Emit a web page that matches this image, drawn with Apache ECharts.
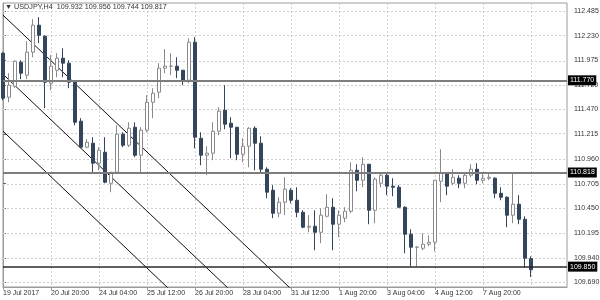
<!DOCTYPE html>
<html><head><meta charset="utf-8">
<script src="https://cdn.jsdelivr.net/npm/echarts@6/dist/echarts.min.js"></script>
<style>html,body{margin:0;padding:0;background:#fff}#c{width:600px;height:300px}</style>
</head><body><div id="c"></div>
<script>
const symbolName = 'USDJPY,H4';
const xTickLabels = ['19 Jul 2017','20 Jul 20:00','24 Jul 04:00','25 Jul 12:00','26 Jul 20:00','28 Jul 04:00','31 Jul 12:00','1 Aug 20:00','3 Aug 04:00','4 Aug 12:00','7 Aug 20:00','9 Aug 04:00'];
const yTicks = [109.690,109.940,110.195,110.450,110.705,110.960,111.215,111.470,111.720,111.975,112.230,112.485];
const slotCount = 95;

const opens = [112.050,111.596,111.709,111.957,111.823,112.060,112.338,112.225,111.740,111.874,111.998,111.947,111.761,111.349,111.081,111.122,110.916,111.029,110.709,110.823,111.215,111.101,111.287,110.998,111.256,111.544,111.648,111.895,111.916,111.916,111.874,111.771,112.163,111.173,110.998,111.019,111.246,111.462,111.328,111.287,111.008,111.091,111.276,111.122,110.854,110.637,110.400,110.514,110.637,110.534,110.410,110.256,110.266,110.204,110.369,110.462,110.287,110.349,110.421,110.843,110.740,110.905,110.431,110.709,110.792,110.679,110.668,110.462,110.184,110.050,110.039,110.081,110.101,110.730,110.813,110.709,110.761,110.709,110.792,110.854,110.740,110.761,110.761,110.606,110.565,110.380,110.493,110.338,109.932];
const highs = [112.060,111.843,111.977,111.977,112.173,112.400,112.421,112.235,112.029,112.050,112.101,111.977,111.771,111.380,111.163,111.184,111.081,111.184,110.823,111.307,111.235,111.338,111.338,111.287,111.617,111.689,111.947,112.091,112.050,112.008,111.874,112.204,112.215,111.235,111.091,111.338,111.493,111.720,111.390,111.287,111.173,111.287,111.297,111.194,110.874,110.689,110.565,110.771,110.658,110.668,110.431,110.380,110.431,110.452,110.596,110.555,110.431,110.462,110.926,110.905,110.977,110.905,110.771,110.823,110.823,110.761,110.690,110.472,110.235,110.060,110.194,110.173,110.740,111.060,110.823,110.854,110.792,110.813,110.905,110.916,110.813,110.813,110.771,110.668,110.575,110.823,110.586,110.369,109.956];
const lows = [111.565,111.544,111.689,111.782,111.782,112.008,112.153,111.483,111.668,111.802,111.802,111.689,111.307,111.070,111.070,110.813,110.843,110.709,110.617,110.813,111.081,111.081,110.977,110.823,111.235,111.380,111.586,111.843,111.823,111.792,111.720,111.740,111.070,110.895,110.792,110.947,111.204,111.266,110.967,110.947,110.926,110.874,110.843,110.823,110.555,110.349,110.359,110.380,110.503,110.359,110.246,110.204,110.019,110.091,110.359,110.019,110.153,110.307,110.400,110.627,110.668,110.287,110.297,110.668,110.586,110.575,110.452,109.988,109.854,109.854,110.019,110.060,110.008,110.514,110.586,110.689,110.658,110.658,110.771,110.699,110.709,110.740,110.555,110.534,110.256,110.297,110.287,109.843,109.744];
const closes = [111.586,111.720,111.967,111.843,112.060,112.338,112.235,111.751,111.916,111.998,111.947,111.751,111.338,111.081,111.132,110.916,111.050,110.720,110.823,111.215,111.101,111.276,110.998,111.256,111.544,111.637,111.895,111.916,111.916,111.874,111.761,112.163,111.184,110.998,111.019,111.246,111.452,111.318,111.287,111.008,111.091,111.276,111.122,110.854,110.617,110.400,110.514,110.648,110.534,110.410,110.256,110.266,110.204,110.380,110.462,110.287,110.380,110.421,110.843,110.740,110.905,110.431,110.751,110.792,110.679,110.668,110.462,110.184,110.050,110.050,110.081,110.101,110.740,110.813,110.679,110.771,110.709,110.792,110.854,110.740,110.761,110.771,110.606,110.565,110.380,110.493,110.338,109.936,109.817];

const levels = [111.770, 110.818, 109.850];
const bidPrice = 109.817;
const trendA = [[0, 112.442], [50, 109.503]];
const trendB = [[0, 111.833], [50, 108.894]];
const trendC = [[0, 111.246], [50, 108.307]];

const yMin = 109.640, yMax = 112.567;

const categories = [];
for (let i = 0; i < slotCount; i++) {
  categories.push(i % 8 === 0 && xTickLabels[i / 8] ? xTickLabels[i / 8] : String(i));
}
const candleData = opens.map((o, i) => [o, closes[i], lows[i], highs[i]]);
const last = opens.length - 1;
const titleText = '\u25BC ' + symbolName + '  ' + [opens[last], highs[last], lows[last], closes[last]].map(v => v.toFixed(3)).join(' ');

const FONT = 'Liberation Sans, Arial, sans-serif';
const frameColor = '#9a9a9a';
const gridLineColor = '#cfcfcf';

const boxLabel = {
  show: true, position: 'end', distance: 1,
  backgroundColor: '#000', color: '#fff', fontSize: 7, fontFamily: FONT,
  padding: [1, 2, 1, 2], lineHeight: 8,
  formatter: p => Number(p.data && p.data.yAxis != null ? p.data.yAxis : p.value).toFixed(3)
};

const markLineData = [
  { yAxis: bidPrice, lineStyle: { opacity: 0 }, label: Object.assign({}, boxLabel, { backgroundColor: '#111' }) },
  { yAxis: levels[0], lineStyle: { color: '#7d7d7d', width: 2, type: 'solid' } },
  { yAxis: levels[1], lineStyle: { color: '#7d7d7d', width: 2, type: 'solid' } },
  { yAxis: levels[2], lineStyle: { color: '#2a2a2a', width: 1.5, type: 'solid' } }
];

const gridLineSeries = {
  type: 'line', data: [], silent: true, z: 1,
  markLine: {
    silent: true, symbol: 'none', animation: false, z: 1,
    label: { show: false },
    lineStyle: { color: gridLineColor, width: 1, type: [2, 2] },
    data: yTicks.map(v => ({ yAxis: v }))
  }
};

const trendSeries = [trendA, trendB, trendC].map(d => ({
  type: 'line', xAxisIndex: 1, yAxisIndex: 0, data: d, symbol: 'none',
  lineStyle: { color: '#111', width: 1 }, clip: true, silent: true, z: 3
}));

const chart = echarts.init(document.getElementById('c'), null, { renderer: 'canvas' });
chart.setOption({
  animation: false,
  backgroundColor: '#fff',
  title: {
    text: titleText, left: 5, top: 4, padding: 0,
    textStyle: { fontSize: 7.2, fontWeight: 'normal', color: '#333', fontFamily: FONT }
  },
  grid: {
    left: 3, top: 3, width: 564, height: 284,
    show: true, borderColor: frameColor, borderWidth: 1, backgroundColor: 'transparent',
    containLabel: false, outerBoundsMode: 'none'
  },
  xAxis: [{
    type: 'category', data: categories, boundaryGap: false,
    axisLine: { show: true, lineStyle: { color: frameColor } },
    axisTick: { show: true, interval: 7, length: 3, lineStyle: { color: frameColor } },
    axisLabel: {
      interval: 7, align: 'left', margin: 3, fontSize: 7, color: '#333', fontFamily: FONT,
      showMinLabel: true, showMaxLabel: false
    },
    splitLine: { show: true, interval: 7, lineStyle: { color: gridLineColor, type: [2, 2] } }
  }, {
    type: 'value', min: 0, max: slotCount - 1, show: false
  }],
  yAxis: [{
    type: 'value', position: 'right', min: yMin, max: yMax, scale: true,
    axisLine: { show: true, lineStyle: { color: frameColor } },
    axisTick: { show: true, length: 3, customValues: yTicks, lineStyle: { color: '#666' } },
    axisLabel: {
      customValues: yTicks, align: 'left', margin: 7, fontSize: 7, color: '#333', fontFamily: FONT,
      formatter: v => Number(v).toFixed(3)
    },
    splitLine: { show: false }
  }],
  series: [gridLineSeries, {
    type: 'candlestick', data: candleData, barWidth: 4, clip: true, z: 4,
    itemStyle: {
      color: '#ffffff', color0: '#34465b',
      borderColor: '#8a8a8a', borderColor0: '#34465b', borderWidth: 1
    },
    markLine: {
      silent: true, symbol: 'none', animation: false, z: 5,
      label: boxLabel,
      data: markLineData
    }
  }].concat(trendSeries)
});
</script></body></html>
